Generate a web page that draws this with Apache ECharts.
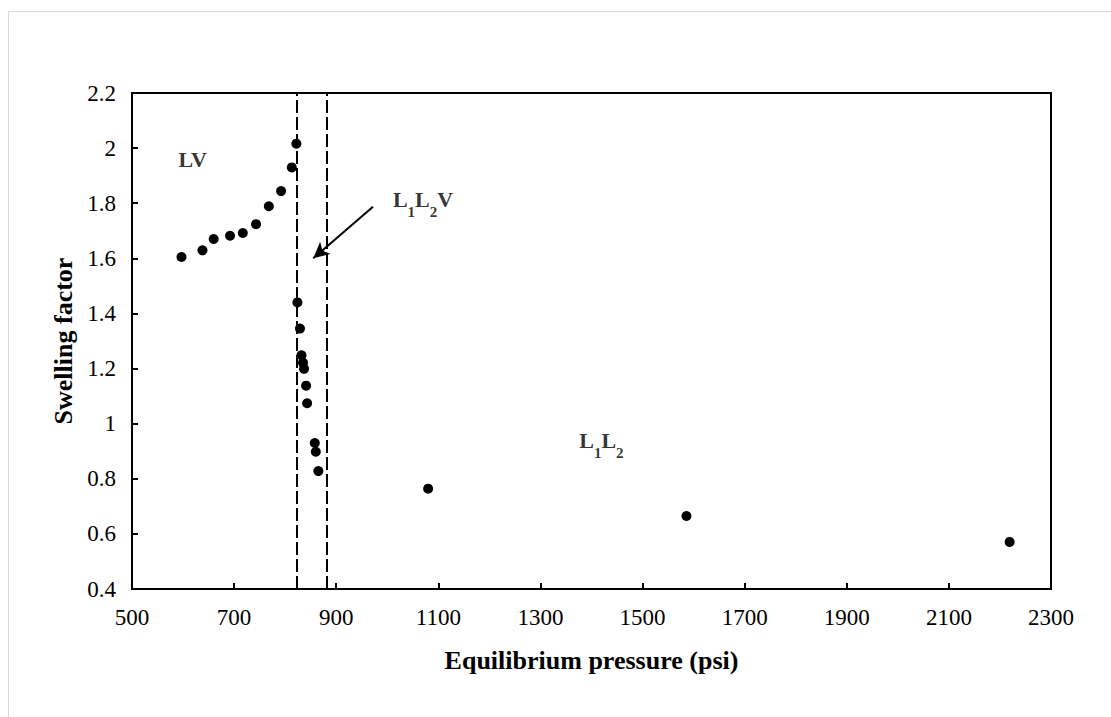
<!DOCTYPE html>
<html>
<head>
<meta charset="utf-8">
<script src="https://cdn.jsdelivr.net/npm/echarts@6/dist/echarts.min.js"></script>
<style>
  html, body { margin: 0; padding: 0; background: #fff; }
  #chart { width: 1111px; height: 717px; }
</style>
</head>
<body>
<div id="chart"></div>
<script>
// measured points: equilibrium pressure (psi) vs swelling factor
var pressure = [597, 638, 660, 692, 717, 743, 768, 792, 813, 822,
                824, 829, 832, 835, 837, 841, 843, 858, 860, 865,
                1080, 1586, 2219];
var swelling = [1.605, 1.629, 1.670, 1.682, 1.692, 1.724, 1.789, 1.844, 1.930, 2.016,
                1.440, 1.345, 1.248, 1.221, 1.199, 1.138, 1.074, 0.930, 0.898, 0.828,
                0.764, 0.665, 0.571];

// three-phase region boundaries (psi)
var phaseBounds = [822, 881];

// arrow pointing into the L1L2V band
var arrowFrom = [972, 1.787];
var arrowTo = [855, 1.600];

// region labels, anchored at their left/middle
var regionNames = ['{b|LV}', '{b|L}{s|1}{b|L}{s|2}{b|V}', '{b|L}{s|1}{b|L}{s|2}'];
var regionAt = [[591, 1.957], [1011, 1.812], [1376, 0.940]];

var xMin = 500, xMax = 2300, xStep = 200;
var yMin = 0.4, yMax = 2.2, yStep = 0.2;

var font = '"Liberation Serif", "Times New Roman", serif';
var chart = echarts.init(document.getElementById('chart'), null, { renderer: 'svg' });

var points = pressure.map(function (p, i) { return [p, swelling[i]]; });
var labels = regionNames.map(function (n, i) {
  return { value: regionAt[i], label: { formatter: n } };
});

chart.setOption({
  animation: false,
  backgroundColor: '#fff',
  textStyle: { fontFamily: font, color: '#000' },
  graphic: [{
    type: 'rect',
    shape: { x: 8.5, y: 11.5, width: 1200, height: 800 },
    style: { fill: 'none', stroke: '#d9d9d9', lineWidth: 1 },
    silent: true
  }],
  grid: {
    left: 132, right: 60, top: 93, bottom: 128,
    show: true, borderColor: '#000', borderWidth: 2, backgroundColor: 'transparent'
  },
  xAxis: {
    type: 'value',
    min: xMin, max: xMax, interval: xStep,
    name: 'Equilibrium pressure (psi)',
    nameLocation: 'middle',
    nameGap: 58,
    nameTextStyle: { fontFamily: font, fontSize: 26, fontWeight: 'bold', color: '#000' },
    axisLine: { show: true, lineStyle: { color: '#000', width: 2 } },
    axisTick: { show: true, inside: true, length: 6, lineStyle: { color: '#000', width: 2 } },
    axisLabel: {
      fontFamily: font, fontSize: 23, color: '#000', margin: 17,
      formatter: function (v) { return String(v); }
    },
    splitLine: { show: false }
  },
  yAxis: {
    type: 'value',
    min: yMin, max: yMax, interval: yStep,
    name: 'Swelling factor',
    nameLocation: 'middle',
    nameGap: 53,
    nameTextStyle: { fontFamily: font, fontSize: 26, fontWeight: 'bold', color: '#000' },
    axisLine: { show: true, lineStyle: { color: '#000', width: 2 } },
    axisTick: { show: true, inside: true, length: 6, lineStyle: { color: '#000', width: 2 } },
    axisLabel: {
      fontFamily: font, fontSize: 23, color: '#000', margin: 16,
      formatter: function (v) { return String(Math.round(v * 10) / 10); }
    },
    splitLine: { show: false }
  },
  series: [
    {
      type: 'scatter',
      data: points,
      symbol: 'circle',
      symbolSize: 10,
      itemStyle: { color: '#000', opacity: 1 },
      z: 5,
      markLine: {
        silent: true,
        symbol: ['none', 'none'],
        label: { show: false },
        lineStyle: { color: '#000', width: 2, type: [13, 4], opacity: 1 },
        data: phaseBounds.map(function (b) { return { xAxis: b }; })
      }
    },
    {
      type: 'scatter',
      data: [],
      markLine: {
        silent: true,
        symbol: ['none', 'arrow'],
        symbolSize: [12, 16],
        label: { show: false },
        lineStyle: { color: '#000', width: 2, type: 'solid', opacity: 1 },
        itemStyle: { color: '#000' },
        data: [[{ coord: arrowFrom }, { coord: arrowTo }]]
      }
    },
    {
      type: 'scatter',
      data: labels,
      symbolSize: 0,
      silent: true,
      label: {
        show: true,
        position: [0, 0],
        align: 'left',
        verticalAlign: 'middle',
        color: '#000',
        rich: {
          b: { fontFamily: font, fontSize: 22, fontWeight: 'bold', color: '#000', lineHeight: 28 },
          s: { fontFamily: font, fontSize: 15, fontWeight: 'bold', color: '#000', lineHeight: 28, verticalAlign: 'bottom', padding: [0, 0, -6, 0] }
        }
      }
    }
  ]
});
window.addEventListener('resize', function () { chart.resize(); });
</script>
</body>
</html>
